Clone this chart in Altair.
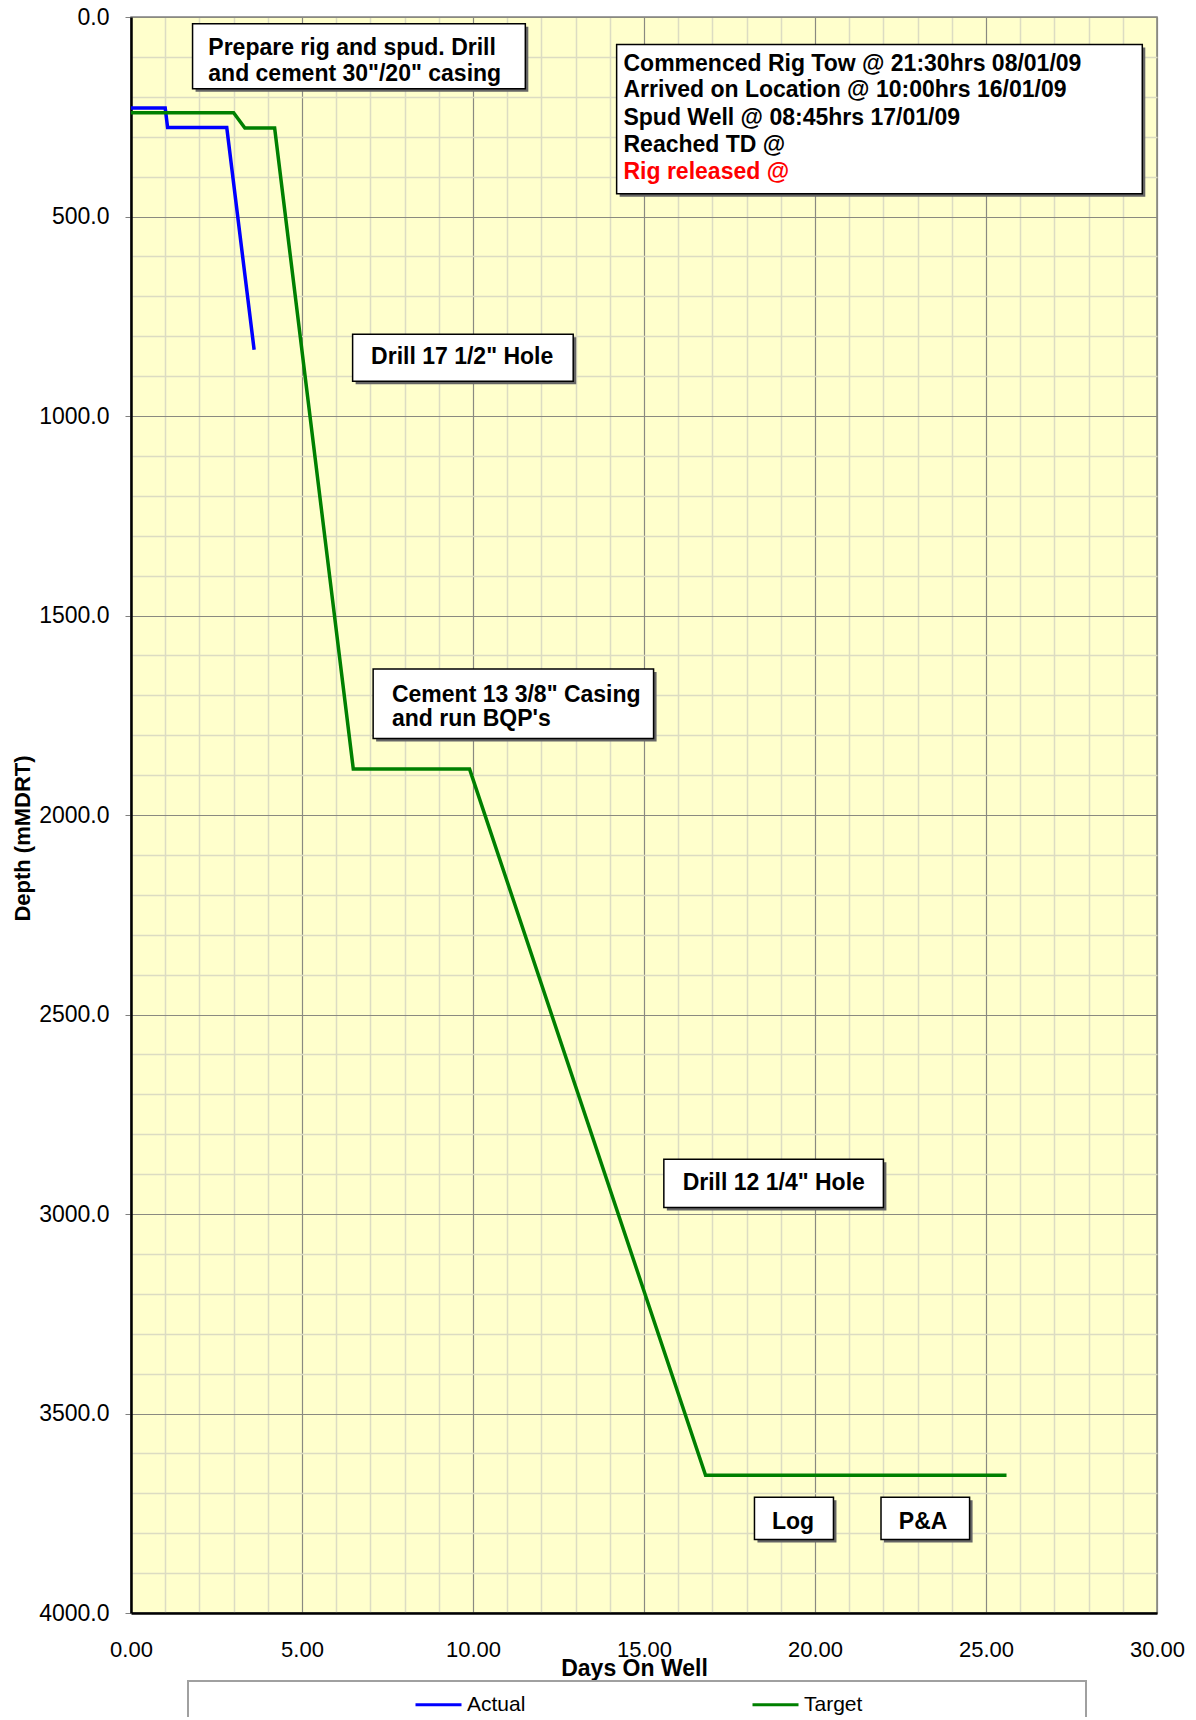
import altair as alt
import pandas as pd

# ---- series data (days on well, depth mMDRT) ----
actual_days = [0.0, 1.0, 1.07, 2.8, 3.6]
actual_depth = [228, 228, 277, 277, 834]
target_days = [0.0, 3.0, 3.33, 4.2, 6.5, 9.9, 16.8, 25.6]
target_depth = [240, 240, 278, 278, 1885, 1885, 3655, 3655]

# ---- annotation boxes (in data units) ----
box_x0 = [1.8, 14.2, 6.48, 7.08, 15.58, 18.23, 21.93]
box_x1 = [11.53, 29.57, 12.93, 15.28, 22.0, 20.54, 24.52]
box_y0 = [17, 69, 795, 1634, 2863, 3710, 3710]
box_y1 = [180, 443, 913, 1808, 2984, 3816, 3816]

# ---- annotation text lines ----
label_text = [
    "Prepare rig and spud. Drill",
    'and cement 30"/20" casing',
    "Commenced Rig Tow @ 21:30hrs 08/01/09",
    "Arrived on Location @ 10:00hrs 16/01/09",
    "Spud Well @ 08:45hrs 17/01/09",
    "Reached TD @",
    "Rig released @",
    'Drill 17 1/2" Hole',
    'Cement 13 3/8" Casing',
    "and run BQP's",
    'Drill 12 1/4" Hole',
    "Log",
    "P&A",
]
label_day = [2.26, 2.26, 14.4, 14.4, 14.4, 14.4, 14.4, 7.02, 7.63, 7.63, 16.13, 18.74, 22.45]
label_depth = [78, 142, 117, 184, 252, 320, 388, 851, 1698, 1760, 2923, 3771, 3771]
label_red = [False, False, False, False, False, False, True, False, False, False, False, False, False]

series_names = ["Actual", "Target"]
series_colors = ["#0000FF", "#008000"]

rows = []
for i, (d, v) in enumerate(zip(actual_days, actual_depth)):
    rows.append({"series": "Actual", "day": d, "depth": v, "order": i})
for i, (d, v) in enumerate(zip(target_days, target_depth)):
    rows.append({"series": "Target", "day": d, "depth": v, "order": i})
lines_df = pd.DataFrame(rows)

boxes_df = pd.DataFrame({"x0": box_x0, "x1": box_x1, "y0": box_y0, "y1": box_y1})
text_df = pd.DataFrame({"text": label_text, "day": label_day, "depth": label_depth, "red": label_red})
black_df = text_df[~text_df["red"]]
red_df = text_df[text_df["red"]]

FONT = "Liberation Sans"

x_scale = alt.Scale(domain=[0, 30], nice=False, zero=False)
y_scale = alt.Scale(domain=[0, 4000], reverse=True, nice=False, zero=False)

x_axis = alt.Axis(
    values=list(range(0, 31)),
    tickCount=200,
    labelExpr="datum.value % 5 === 0 ? format(datum.value, '.2f') : ''",
    labelOverlap=False,
    labelFlush=False,
    labelFont=FONT,
    labelFontSize=22,
    labelColor="#000000",
    labelBaseline="middle",
    labelPadding=36,
    tickSize=0,
    domainColor="#000000",
    domainWidth=2.5,
    grid=True,
    gridColor={"condition": {"test": "datum.value % 5 === 0", "value": "#8a8a80"}, "value": "#dcdcc2"},
    gridWidth={"condition": {"test": "datum.value % 5 === 0", "value": 1.2}, "value": 1.5},
    title="Days On Well",
    titleFont=FONT,
    titleFontSize=23,
    titleFontWeight="bold",
    titleColor="#000000",
    titleBaseline="middle",
    titleAlign="center",
    titleX=503,
    titleY=55,
)

y_axis = alt.Axis(
    values=list(range(0, 4001, 100)),
    tickCount=400,
    labelExpr="datum.value % 500 === 0 ? format(datum.value, '.1f') : ''",
    labelOverlap=False,
    labelFlush=False,
    labelFont=FONT,
    labelFontSize=23,
    labelColor="#000000",
    labelPadding=16,
    tickSize=6,
    tickColor={"condition": {"test": "datum.value % 500 === 0", "value": "#808080"}, "value": "transparent"},
    domainColor="#000000",
    domainWidth=2.5,
    grid=True,
    gridColor={"condition": {"test": "datum.value % 500 === 0", "value": "#8a8a80"}, "value": "#dcdcc2"},
    gridWidth={"condition": {"test": "datum.value % 500 === 0", "value": 1.2}, "value": 1.5},
    title="Depth (mMDRT)",
    titleFont=FONT,
    titleFontSize=22,
    titleFontWeight="bold",
    titleColor="#000000",
    titleAngle=270,
    titleAlign="center",
    titleBaseline="middle",
    titleX=-109,
    titleY=821,
)

legend_frame = alt.Chart(pd.DataFrame({"k": [0]})).mark_rect(
    fill="white", stroke="#a0a0a0", strokeWidth=2
).encode(
    x=alt.value(57), x2=alt.value(955), y=alt.value(1664), y2=alt.value(1740)
)

lines = alt.Chart(lines_df).mark_line(strokeWidth=3.5).encode(
    x=alt.X("day:Q", scale=x_scale, axis=x_axis),
    y=alt.Y("depth:Q", scale=y_scale, axis=y_axis),
    color=alt.Color(
        "series:N",
        scale=alt.Scale(domain=series_names, range=series_colors),
        legend=alt.Legend(
            title=None,
            orient="none",
            legendX=283,
            legendY=1663,
            direction="horizontal",
            columns=2,
            columnPadding=220,
            symbolType="stroke",
            symbolSize=2116,
            symbolStrokeWidth=3,
            labelFont=FONT,
            labelFontSize=21,
            labelColor="#000000",
            labelOffset=4,
            padding=0,
        ),
    ),
    order="order:Q",
)

shadows = alt.Chart(boxes_df).mark_rect(
    fill="#666666", xOffset=3, x2Offset=3, yOffset=3, y2Offset=3
).encode(
    x=alt.X("x0:Q", scale=x_scale), x2="x1:Q",
    y=alt.Y("y0:Q", scale=y_scale), y2="y1:Q",
)

boxes = alt.Chart(boxes_df).mark_rect(
    fill="white", stroke="#000000", strokeWidth=1.5
).encode(
    x=alt.X("x0:Q", scale=x_scale), x2="x1:Q",
    y=alt.Y("y0:Q", scale=y_scale), y2="y1:Q",
)

texts_black = alt.Chart(black_df).mark_text(
    align="left", baseline="middle", font=FONT, fontSize=23, fontWeight="bold", color="#000000"
).encode(
    x=alt.X("day:Q", scale=x_scale), y=alt.Y("depth:Q", scale=y_scale), text="text:N"
)

texts_red = alt.Chart(red_df).mark_text(
    align="left", baseline="middle", font=FONT, fontSize=23, fontWeight="bold", color="#FF0000"
).encode(
    x=alt.X("day:Q", scale=x_scale), y=alt.Y("depth:Q", scale=y_scale), text="text:N"
)

chart = alt.layer(legend_frame, lines, shadows, boxes, texts_black, texts_red).properties(
    width=1026,
    height=1596,
    autosize=alt.AutoSizeParams(type="none"),
    padding={"left": 123, "top": 9, "right": 31, "bottom": 104},
    background="white",
).configure_view(
    fill="#FFFFCC", stroke="#808080", strokeWidth=1.5
)

chart.save("out.html", embed_options={"renderer": "svg", "actions": False})
